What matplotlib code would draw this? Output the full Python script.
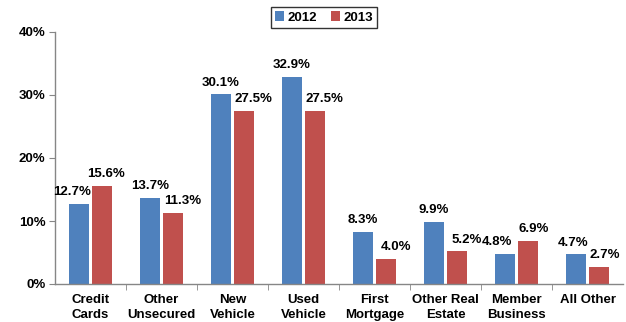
import numpy as np
import matplotlib.pyplot as plt
from matplotlib.ticker import FixedLocator, PercentFormatter

plt.rcParams['font.family'] = ['Liberation Sans', 'DejaVu Sans']
plt.rcParams['font.weight'] = 'bold'

categories = ['Credit\nCards', 'Other\nUnsecured', 'New\nVehicle', 'Used\nVehicle',
              'First\nMortgage', 'Other Real\nEstate', 'Member\nBusiness', 'All Other']
values_2012 = [12.7, 13.7, 30.1, 32.9, 8.3, 9.9, 4.8, 4.7]
values_2013 = [15.6, 11.3, 27.5, 27.5, 4.0, 5.2, 6.9, 2.7]
series_names = ['2012', '2013']

# horizontal nudges (points) so neighbouring labels don't collide
nudge_2012 = [-5, 0, 0, 0, 0, 0, -6, -2]
nudge_2013 = [2.5, 7, 7, 7, 7, 7, 4, 4]

blue = '#4F81BD'
red = '#C0504D'

fig = plt.figure(figsize=(6.26, 3.22), dpi=100)
ax = fig.add_axes([55 / 626, 1 - 284 / 322, 568 / 626, 252 / 322])

x = np.arange(len(categories))
w = 0.28
gap = 0.025
b1 = ax.bar(x - w / 2 - gap, values_2012, w, color=blue, label=series_names[0])
b2 = ax.bar(x + w / 2 + gap, values_2013, w, color=red, label=series_names[1])

for bars, vals, nudge in ((b1, values_2012, nudge_2012), (b2, values_2013, nudge_2013)):
    for bar, v, dx in zip(bars, vals, nudge):
        ax.annotate(f'{v:.1f}%', (bar.get_x() + bar.get_width() / 2, v),
                    xytext=(dx, 4), textcoords='offset points',
                    ha='center', va='bottom', fontsize=9.5, fontweight='bold')

ax.set_xlim(-0.5, len(categories) - 0.5)
ax.set_ylim(0, 40)
ax.set_yticks([0, 10, 20, 30, 40])
ax.yaxis.set_major_formatter(PercentFormatter(decimals=0))
ax.set_xticks(x)
ax.set_xticklabels(categories, fontsize=9.5, fontweight='bold', linespacing=1.35)
ax.xaxis.set_minor_locator(FixedLocator(np.arange(0.5, len(categories) - 0.5, 1)))
ax.tick_params(axis='x', which='major', length=0, pad=7)
ax.tick_params(axis='x', which='minor', length=4, color='#868686', direction='out')
ax.tick_params(axis='y', length=4, color='#868686', labelsize=9.5, pad=3)
for lbl in ax.get_yticklabels():
    lbl.set_fontweight('bold')

for side in ('top', 'right'):
    ax.spines[side].set_visible(False)
for side in ('left', 'bottom'):
    ax.spines[side].set_color('#868686')
    ax.spines[side].set_linewidth(1)

leg = fig.legend(loc='center', bbox_to_anchor=(324 / 626, 1 - 17.5 / 322), ncol=2,
                 frameon=True, fancybox=False, edgecolor='black',
                 handlelength=0.7, handleheight=0.7, handletextpad=0.3,
                 columnspacing=1.0, borderpad=0.3,
                 prop={'size': 9.5, 'weight': 'bold'})
leg.get_frame().set_linewidth(1)

fig.savefig('out.png', dpi=100)
